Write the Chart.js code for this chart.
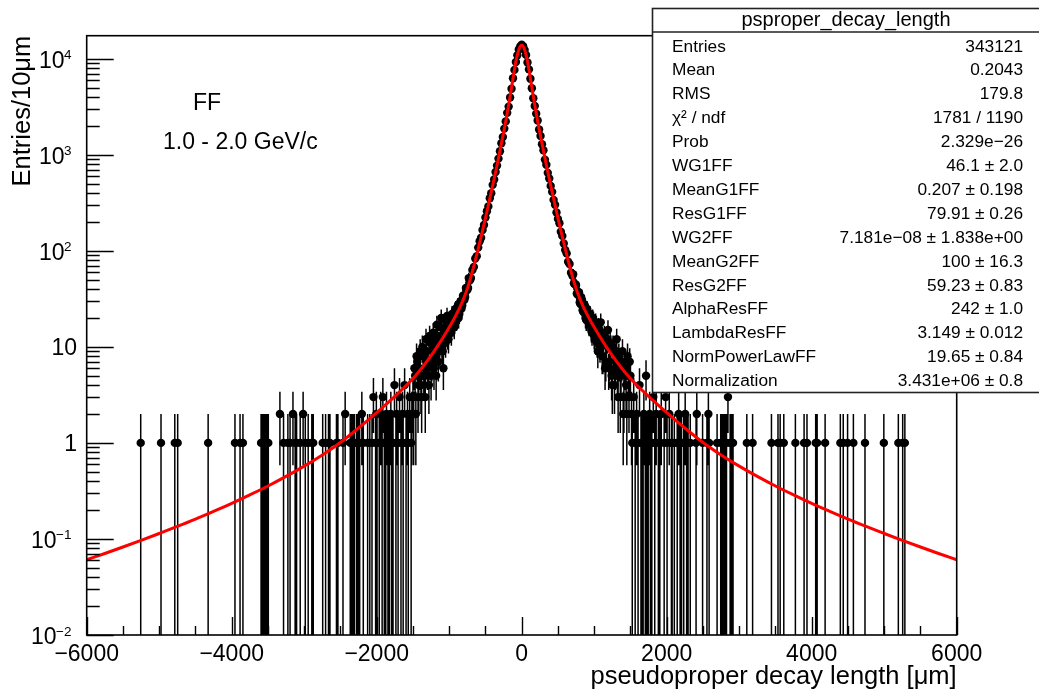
<!DOCTYPE html>
<html>
<head>
<meta charset="utf-8">
<script src="https://cdn.jsdelivr.net/npm/chart.js@4.4.1/dist/chart.umd.min.js"></script>
<style>
  html, body { margin: 0; padding: 0; background: #fff; }
  #wrap { width: 1039px; height: 692px; }
</style>
</head>
<body>
<div id="wrap"><canvas id="c" width="1039" height="692"></canvas></div>
<script>
// ---------------- data ----------------
// histogram core: bin centres from coreStart every coreStep (um)
const coreStart = -1500;
const coreStep = 20;
const coreCounts = [
  3, 6, 2, 7, 4, 9, 3, 8, 5, 12, 6, 4, 11, 7, 14, 8, 5, 13, 9, 16,
  10, 6, 14, 18, 13, 19, 15, 22, 17, 24, 19, 27, 22, 30, 27, 34, 33, 40, 41, 49,
  52, 63, 68, 83, 88, 108, 126, 137, 165, 186, 222, 258, 290, 352, 398, 486, 552, 662, 771, 912,
  1087, 1318, 1532, 1871, 2226, 2731, 3172, 3941, 4862, 6251, 7648, 9262, 10841, 12467, 13428,
  13950,
  13480, 12350, 10960, 9150, 7740, 6180, 4930, 3870, 3225, 2680, 2270, 1830, 1566, 1285, 1112,
  890, 787, 648, 567, 474, 411, 339, 301, 251, 215, 194, 158, 143, 119, 102, 94, 77, 73, 59, 55,
  46, 45, 36, 37, 29, 33, 24, 28, 20, 25, 18, 22, 15, 20, 13, 18, 11, 16, 10, 14,
  8, 13, 7, 12, 6, 11, 5, 10, 4, 9, 5, 8, 3, 7, 2, 6, 4, 8, 3, 5
];
// interleaved bins on the shoulders (um)
const leftShoulderStart = -1490;
const rightShoulderStart = 710;
const shoulderStep = 20;
const leftShoulderCounts = [
  2, 5, 8, 3, 6, 4, 10, 5, 3, 9, 7, 13, 5, 10, 6, 12, 17, 7, 11, 20,
  9, 15, 11, 21, 12, 17, 14, 20, 16, 25, 21, 20, 29, 25, 34, 31, 41, 39, 52, 50
];
const rightShoulderCounts = [
  57, 45, 44, 35, 37, 28, 31, 23, 27, 19, 23, 17, 21, 14, 19, 12, 17, 9, 15, 18,
  8, 12, 6, 11, 15, 7, 10, 4, 9, 6, 12, 3, 7, 5, 9, 3, 6, 2, 5, 7
];

// sparse tail bins (um) and their entries
const tailX = [
  -5255, -4975, -4785, -4745, -4325, -3955, -3885, -3845, -3595, -3575, -3555, -3535, -3515, -3495,
  -3335, -3285, -3225, -3195, -3155, -3125, -3105, -3055, -3015, -2985, -2945, -2895, -2875,
  -2745, -2705, -2665, -2645, -2555, -2535, -2465, -2435, -2365, -2345, -2325, -2305, -2275,
  -2255, -2235, -2205, -2185, -2125, -2095, -2065, -2045, -2015, -2005, -1995, -1965, -1945,
  -1925, -1915, -1895, -1875, -1865, -1845, -1825, -1805, -1795, -1775, -1755, -1735, -1725,
  -1705, -1685, -1665, -1645, -1635, -1615, -1595, -1575, -1565, -1545, -1525, -1515,
  1515, 1525, 1545, 1565, 1585, 1605, 1625, 1645, 1655, 1675, 1685, 1705, 1715, 1725, 1745,
  1765, 1775, 1795, 1815, 1835, 1855, 1885, 1905, 1925, 1965, 1985, 2005, 2035, 2065, 2075,
  2105, 2145, 2165, 2185, 2205, 2235, 2255, 2275, 2295, 2325, 2405, 2415, 2495, 2555, 2575,
  2585, 2695, 2745, 2765, 2785, 2805, 2825, 2845, 2875, 2895, 2915, 3105, 3185, 3445, 3535,
  3565, 3615, 3775, 3895, 3935, 4055, 4075, 4185, 4395, 4435, 4495, 4575, 4735, 4995, 5195,
  5255, 5285
];
const tailCounts = [
  1, 1, 1, 1, 1, 1, 1, 1, 1, 1, 1, 1, 1, 1,
  2, 1, 1, 1, 2, 1, 1, 1, 2, 1, 1, 1, 1,
  1, 1, 1, 1, 1, 1, 1, 2, 1, 1, 1, 1, 1,
  1, 1, 2, 1, 1, 1, 1, 3, 1, 2, 1, 1, 2,
  1, 3, 1, 1, 2, 1, 1, 2, 1, 1, 4, 1, 2,
  1, 3, 1, 2, 1, 4, 1, 2, 1, 3, 1, 2,
  2, 1, 3, 1, 2, 1, 4, 1, 1, 1, 2, 1, 5, 1, 1,
  2, 1, 1, 3, 1, 2, 1, 1, 2, 1, 3, 1, 2, 1, 1,
  1, 1, 2, 1, 1, 1, 2, 1, 1, 1, 1, 2, 1, 1, 2,
  1, 1, 1, 1, 1, 1, 1, 3, 1, 1, 1, 1, 1, 1, 1,
  1, 1, 1, 1, 1, 1, 1, 1, 1, 1, 1, 1, 1, 1, 1,
  1, 1
];

// fitted function
const fitX = [
  -6000, -5750, -5500, -5250, -5000, -4750, -4500, -4250, -4000, -3750, -3500, -3250, -3000,
  -2750, -2500, -2250, -2000, -1750, -1500, -1400, -1300, -1200, -1100, -1000, -950, -900,
  -850, -800, -750, -700, -650, -600, -550, -500, -450, -400, -350, -300, -250, -200, -150,
  -100, -75, -50, -25, 0, 25, 50, 75, 100,
  150, 200, 250, 300, 350, 400, 450, 500, 550, 600, 650, 700, 750, 800, 850, 900, 950, 1000,
  1100, 1200, 1300, 1400, 1500, 1750, 2000, 2250, 2500, 2750, 3000, 3250, 3500, 3750, 4000,
  4250, 4500, 4750, 5000, 5250, 5500, 5750, 6000
];
const fitY = [
  0.0608, 0.0706, 0.0824, 0.0966, 0.114, 0.135, 0.161, 0.194, 0.235, 0.288, 0.356, 0.448, 0.573,
  0.75, 1.01, 1.43, 2.07, 3.05, 4.68, 5.75, 7.2, 9.2, 12, 16, 18.6, 21.9,
  26.1, 32, 40.4, 53.8, 74.3, 105, 151, 219, 323, 480, 718, 1100, 1700, 2700, 4500,
  7700, 9800, 11700, 13300, 13900, 13300, 11700, 9800, 7700,
  4500, 2700, 1700, 1100, 718, 480, 323, 219, 151, 105, 74.3, 53.8, 40.4, 32, 26.1, 21.9, 18.6, 16,
  12, 9.2, 7.2, 5.75, 4.68, 3.05, 2.07, 1.43, 1.01, 0.75, 0.573, 0.448, 0.356, 0.288, 0.235,
  0.194, 0.161, 0.135, 0.114, 0.0966, 0.0824, 0.0706, 0.0608
];

// axes
const xTickValues = [-6000, -4000, -2000, 0, 2000, 4000, 6000];
const xTickLabels = ['\u22126000', '\u22124000', '\u22122000', '0', '2000', '4000', '6000'];
const yTickValues = [0.01, 0.1, 1, 10, 100, 1000, 10000];
const yTickBase = ['10', '10', '1', '10', '10', '10', '10'];
const yTickExp = ['\u22122', '\u22121', '', '', '2', '3', '4'];
const xMin = -6000, xMax = 6000, yMin = 0.01, yMax = 17360;

// stats box
const statsTitle = 'psproper_decay_length';
const statNames = ['Entries', 'Mean', 'RMS', '\u03C7\u00B2 / ndf', 'Prob', 'WG1FF', 'MeanG1FF', 'ResG1FF',
  'WG2FF', 'MeanG2FF', 'ResG2FF', 'AlphaResFF', 'LambdaResFF', 'NormPowerLawFF', 'Normalization'];
const statValues = ['343121', '0.2043', '179.8', '1781 / 1190', '2.329e\u221226', '46.1 \u00B1 2.0',
  '0.207 \u00B1 0.198', '79.91 \u00B1 0.26', '7.181e\u221208 \u00B1 1.838e+00', '100 \u00B1 16.3',
  '59.23 \u00B1 0.83', '242 \u00B1 1.0', '3.149 \u00B1 0.012', '19.65 \u00B1 0.84', '3.431e+06 \u00B1 0.8'];
const labelLines = ['FF', '1.0 - 2.0 GeV/c'];

// ---------------- build ----------------
const FONT = "'Liberation Sans', Arial, Helvetica, sans-serif";
const histPoints = coreCounts.map((c, i) => ({ x: coreStart + coreStep * i, y: c }))
  .concat(leftShoulderCounts.map((c, i) => ({ x: leftShoulderStart + shoulderStep * i, y: c })))
  .concat(rightShoulderCounts.map((c, i) => ({ x: rightShoulderStart + shoulderStep * i, y: c })))
  .concat(tailX.map((x, i) => ({ x: x, y: tailCounts[i] })));
const fitPoints = fitX.map((x, i) => ({ x: x, y: fitY[i] }));

const errorBars = {
  id: 'errorBars',
  beforeDatasetDraw(chart, args) {
    if (args.index !== 1) return;
    const ctx = chart.ctx, xs = chart.scales.x, ys = chart.scales.y, a = chart.chartArea;
    ctx.save();
    ctx.beginPath();
    ctx.rect(a.left, a.top, a.right - a.left, a.bottom - a.top);
    ctx.clip();
    ctx.strokeStyle = '#000';
    ctx.lineWidth = 1.5;
    ctx.beginPath();
    chart.data.datasets[1].data.forEach(p => {
      const e = Math.sqrt(p.y);           // Poisson error of the bin
      const lo = p.y - e, hi = p.y + e;
      const px = xs.getPixelForValue(p.x);
      const pLo = lo > yMin ? ys.getPixelForValue(lo) : a.bottom;
      const pHi = ys.getPixelForValue(hi);
      ctx.moveTo(px, pLo);
      ctx.lineTo(px, pHi);
    });
    ctx.stroke();
    ctx.restore();
  }
};

const frame = {
  id: 'frame',
  afterDatasetsDraw(chart) {
    const ctx = chart.ctx, xs = chart.scales.x, ys = chart.scales.y, a = chart.chartArea;
    ctx.save();
    ctx.strokeStyle = '#000';
    ctx.lineWidth = 1.6;
    ctx.strokeRect(a.left, a.top, a.right - a.left, a.bottom - a.top);
    ctx.lineWidth = 1.4;
    ctx.beginPath();
    for (let k = -2; k <= 4; k++) {
      for (let m = 1; m <= 9; m++) {
        const v = m * Math.pow(10, k);
        if (v < yMin || v > yMax) continue;
        const py = Math.round(ys.getPixelForValue(v)) + 0.5;
        const len = m === 1 ? 27 : 13;
        ctx.moveTo(a.left, py);
        ctx.lineTo(a.left + len, py);
      }
    }
    for (let v = xMin; v <= xMax; v += 500) {
      const px = Math.round(xs.getPixelForValue(v)) + 0.5;
      const len = (v % 2000 === 0) ? 18 : 9;
      ctx.moveTo(px, a.bottom);
      ctx.lineTo(px, a.bottom - len);
    }
    ctx.stroke();
    // y tick labels with raised exponents
    ctx.fillStyle = '#000';
    ctx.textBaseline = 'alphabetic';
    yTickValues.forEach((v, i) => {
      const py = ys.getPixelForValue(v);
      ctx.textAlign = 'right';
      if (yTickExp[i]) {
        ctx.font = '13.5px ' + FONT;
        const ew = ctx.measureText(yTickExp[i]).width;
        ctx.fillText(yTickExp[i], 71.5, py + 0.5);
        ctx.font = '23px ' + FONT;
        ctx.fillText(yTickBase[i], 72 - ew, py + 9);
      } else {
        ctx.font = '23px ' + FONT;
        ctx.fillText(yTickBase[i], 77, py + 8.5);
      }
    });
    ctx.restore();
  },
  afterDraw(chart) {
    const ctx = chart.ctx;
    ctx.save();
    // labels in the pad
    ctx.fillStyle = '#000';
    ctx.font = '23px ' + FONT;
    ctx.textAlign = 'left';
    ctx.textBaseline = 'alphabetic';
    ctx.fillText(labelLines[0], 193, 110);
    ctx.fillText(labelLines[1], 163, 149);
    // stats box
    const bx = 652.5, by = 8.5, bw = 400, bh = 384;
    ctx.fillStyle = '#fff';
    ctx.fillRect(bx, by, bw, bh);
    ctx.strokeStyle = '#222';
    ctx.lineWidth = 1.6;
    ctx.strokeRect(bx, by, bw, bh);
    ctx.beginPath();
    ctx.moveTo(bx, 32);
    ctx.lineTo(bx + bw, 32);
    ctx.stroke();
    ctx.fillStyle = '#000';
    ctx.font = '20px ' + FONT;
    ctx.textAlign = 'center';
    ctx.fillText(statsTitle, 846, 26);
    ctx.font = '17.3px ' + FONT;
    statNames.forEach((n, i) => {
      const yb = 51.5 + 23.9 * i;
      ctx.textAlign = 'left';
      ctx.fillText(n, 672, yb);
      ctx.textAlign = 'right';
      ctx.fillText(statValues[i], 1023, yb);
    });
    ctx.restore();
  }
};

new Chart(document.getElementById('c'), {
  type: 'scatter',
  data: {
    datasets: [
      {
        label: 'fit',
        data: fitPoints,
        showLine: true,
        borderColor: '#ff0000',
        borderWidth: 3,
        pointRadius: 0,
        cubicInterpolationMode: 'monotone',
        order: 0
      },
      {
        label: 'pseudoproper decay length',
        data: histPoints,
        showLine: false,
        pointRadius: 4.2,
        pointBackgroundColor: '#000',
        pointBorderColor: '#000',
        pointBorderWidth: 0,
        order: 1
      }
    ]
  },
  options: {
    responsive: false,
    animation: false,
    events: [],
    layout: { padding: { left: 0, top: 35.7, right: 82.3, bottom: 0 } },
    plugins: { legend: { display: false }, tooltip: { enabled: false } },
    scales: {
      x: {
        type: 'linear',
        min: xMin, max: xMax,
        afterBuildTicks: s => { s.ticks = xTickValues.map(v => ({ value: v })); },
        afterFit: s => { s.height = 57; },
        ticks: {
          callback: (v, i) => xTickLabels[i],
          font: { family: FONT, size: 23 },
          color: '#000',
          padding: 6,
          maxRotation: 0,
          autoSkip: false
        },
        grid: { display: false, drawTicks: false },
        border: { display: false },
        title: {
          display: true,
          text: 'pseudoproper decay length [\u03BCm]',
          align: 'end',
          color: '#000',
          font: { family: FONT, size: 25.5 },
          padding: { top: 0, bottom: 0 }
        }
      },
      y: {
        type: 'logarithmic',
        min: yMin, max: yMax,
        afterBuildTicks: s => { s.ticks = yTickValues.map(v => ({ value: v })); },
        afterFit: s => { s.width = 86.7; },
        ticks: { display: false },
        grid: { display: false, drawTicks: false },
        border: { display: false },
        title: {
          display: true,
          text: 'Entries/10\u03BCm',
          align: 'end',
          color: '#000',
          font: { family: FONT, size: 25.5 },
          padding: { top: 8, bottom: 0 }
        }
      }
    }
  },
  plugins: [errorBars, frame]
});
</script>
</body>
</html>
